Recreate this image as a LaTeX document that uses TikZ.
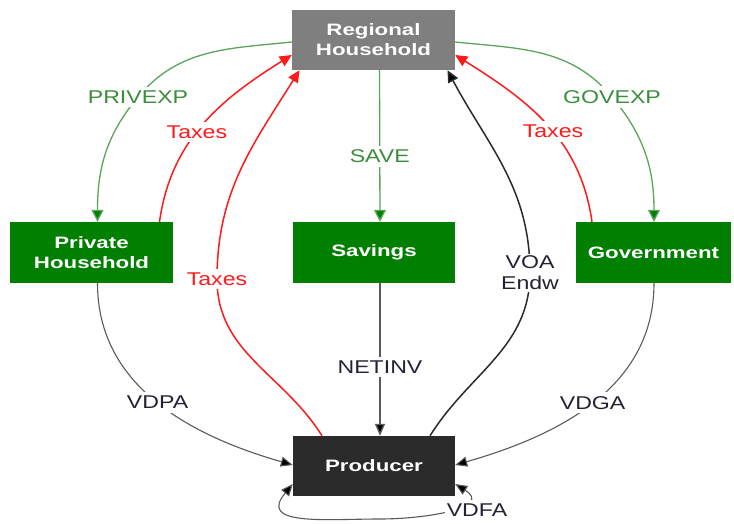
\documentclass[tikz,border=0pt]{standalone}
\usepackage{fontspec}
\setmainfont{Liberation Sans}[FakeStretch=1.25]
\newfontfamily\boxfont{Liberation Sans}[FakeStretch=1.35]
\usetikzlibrary{arrows.meta,calc}
\definecolor{boxgreen}{HTML}{007F00}
\definecolor{boxgray}{HTML}{7F7F7F}
\definecolor{boxdark}{HTML}{2B2B2B}
\definecolor{flowgreen}{HTML}{5AA55A}
\definecolor{labgreen}{HTML}{3C8C3C}
\definecolor{flowred}{HTML}{FF1A1A}
\definecolor{flowdark}{HTML}{2A2A2A}
\definecolor{flowgray}{HTML}{5A5A5A}
\definecolor{labdark}{HTML}{222233}
\begin{document}
\begin{tikzpicture}[x=1pt,y=1pt,
  agent/.style={draw=none,minimum height=60pt,inner sep=0pt,align=center,
    text=white,font=\boxfont\bfseries\fontsize{16.5}{20}\selectfont},
  greenflow/.style={line width=1.3pt,draw=flowgreen,-{Triangle[length=12pt,width=12pt,fill=boxgreen]}},
  redflow/.style={line width=1.5pt,draw=flowred,-{Triangle[length=12pt,width=11pt,fill=flowred]}},
  darkflow/.style={line width=1.5pt,draw=flowdark,-{Triangle[length=12pt,width=11pt,fill=black]}},
  grayflow/.style={line width=1.1pt,draw=flowgray,-{Triangle[length=12pt,width=10pt,fill=black]}},
  lab/.style={fill=white,inner xsep=2pt,inner ysep=4pt,font=\fontsize{18.5}{21}\selectfont,align=center},
]
\useasboundingbox (0,0) rectangle (734,523);

% agents
\node[agent,fill=boxgray,minimum width=163pt] (rh)  at (373.5,483) {Regional\\Household};
\node[agent,fill=boxgreen,minimum width=163pt,minimum height=61pt] (ph) at (91.5,270.5) {Private\\Household};
\node[agent,fill=boxgreen,minimum width=162pt,minimum height=61pt] (sav) at (374,270.5) {Savings};
\node[agent,fill=boxgreen,minimum width=155pt,minimum height=61pt] (gov) at (653.5,270.5) {Government};
\node[agent,fill=boxdark,minimum width=162pt] (prod) at (374,57) {Producer};

% expenditure flows from the regional household
\draw[greenflow] ([yshift=-2pt]rh.west) to[out=186,in=50]
  (138,426) node[lab,text=labgreen] {PRIVEXP}
  to[out=230,in=90] ([xshift=6pt]ph.north);
\draw[greenflow] ([yshift=-2pt]rh.east) to[out=-6,in=130]
  (612,426) node[lab,text=labgreen] {GOVEXP}
  to[out=-50,in=90] ([xshift=0.5pt]gov.north);
\draw[greenflow] ([xshift=6pt]rh.south) -- node[lab,text=labgreen,pos=0.57] {SAVE} ([xshift=6pt]sav.north);

% tax flows
\draw[redflow] ([xshift=68pt]ph.north) to[out=82,in=212]
  node[lab,text=flowred,pos=0.45] {Taxes} ([yshift=-15pt]rh.west);
\draw[redflow] ([xshift=-61.5pt]gov.north) to[out=98,in=-32]
  node[lab,text=flowred,pos=0.45] {Taxes} ([yshift=-15pt]rh.east);
\draw[redflow] ([xshift=-52pt]prod.north) to[out=122,in=-90]
  (217,244) node[lab,text=flowred] {Taxes}
  to[out=90,in=-122] ([xshift=-74pt]rh.south);

% factor payments
\draw[darkflow] ([xshift=56pt]prod.north) to[out=58,in=-90]
  (530,250) node[lab,text=labdark,inner ysep=2pt] (voa) {VOA\\Endw}
  to[out=90,in=-62] ([xshift=74pt]rh.south);
\draw[grayflow,line width=1.4pt] ([xshift=6pt]sav.south) -- node[lab,text=labdark,pos=0.55] {NETINV} ([xshift=6pt]prod.north);

% purchases of domestic goods
\draw[grayflow] ([xshift=6pt]ph.south) to[out=-90,in=164]
  node[lab,text=labdark,pos=0.5] {VDPA} ([yshift=1pt]prod.west);
\draw[grayflow] ([xshift=0.5pt]gov.south) to[out=-90,in=16]
  node[lab,text=labdark,pos=0.5] {VDGA} ([yshift=1pt]prod.east);

% intermediate use
\draw[grayflow,{Triangle[length=12pt,width=10pt,fill=black]}-{Triangle[length=12pt,width=10pt,fill=black]}]
  ([yshift=-18pt]prod.east) to[out=-32,in=0,looseness=1.4] (380,4)
  to[out=180,in=-130,looseness=1.5] ([yshift=-18pt]prod.west);
\node[lab,text=labdark] (vdfa) at (477,13) {VDFA};
\end{tikzpicture}
\end{document}
